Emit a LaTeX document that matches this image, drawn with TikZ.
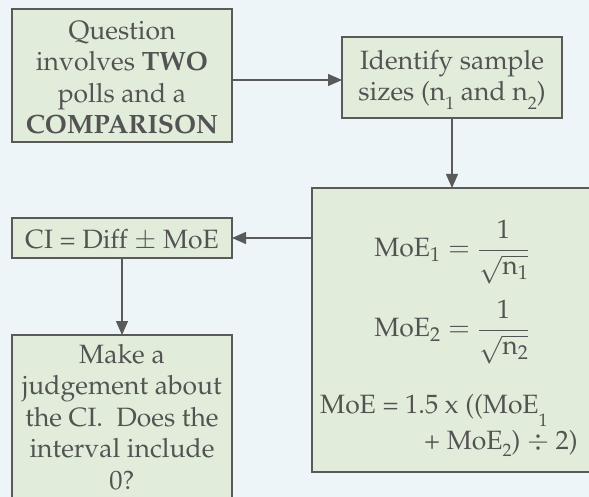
\documentclass[tikz,border=0pt]{standalone}
\usepackage[T1]{fontenc}
\usepackage{mathpazo}
\usetikzlibrary{arrows.meta}
\definecolor{bgc}{HTML}{EEF5F9}
\definecolor{boxc}{HTML}{E1EDDA}
\definecolor{linec}{HTML}{5A5A5A}
\definecolor{txtc}{HTML}{535353}
\newcommand{\lowsub}[2]{\raisebox{#1}{\fontsize{18}{18}\selectfont #2}}
\begin{document}
\begin{tikzpicture}[x=1pt,y=-1pt,
  box/.style={draw=linec, fill=boxc, line width=1.3pt, rectangle, anchor=north west, inner sep=0pt, outer sep=0pt},
  txt/.style={text=txtc, font=\fontsize{26.5}{31.5}\selectfont, align=center, inner sep=0pt},
  arr/.style={draw=linec, line width=1.3pt, -{Triangle[length=14pt,width=12pt]}}]
\useasboundingbox[fill=bgc] (0,0) rectangle (589,497);
\begin{scope}
\clip (0,0) rectangle (589,497);
\node[box, minimum width=220pt, minimum height=133pt] (q) at (12,9) {};
\node[box, minimum width=220pt, minimum height=81pt] (ident) at (342,37) {};
\node[box, minimum width=290pt, minimum height=284pt] (moe) at (312,188) {};
\node[box, minimum width=220pt, minimum height=40pt] (ci) at (12,218) {};
\node[box, minimum width=220pt, minimum height=180pt] (judge) at (12,335) {};

\node[txt] (qt) at (122,77.5) {Question\\involves \textbf{TWO}\\polls and a\\\textbf{COMPARISON}};
\node[txt] (identt) at (452,80) {Identify sample\\sizes (n\lowsub{-9pt}{1} and n\lowsub{-9pt}{2})};
\node[txt] (cit) at (122,240) {CI = Diff $\pm$ MoE};
\node[txt, anchor=north] (judget) at (122,344) {Make a\\judgement about\\the CI.\ \ Does the\\interval include\\0?};
\node[txt] (m1) at (452,252) {$\displaystyle \mathrm{MoE}_1 = \frac{1}{\sqrt{\mathrm{n}_1}}$};
\node[txt] (m2) at (452,332) {$\displaystyle \mathrm{MoE}_2 = \frac{1}{\sqrt{\mathrm{n}_2}}$};
\node[txt, anchor=base west] (m3) at (320,413) {MoE = 1.5 x ((MoE\lowsub{-13pt}{1}};
\node[txt, anchor=base east] (m4) at (578,449) {+ MoE\lowsub{-7pt}{2}) $\div$ 2)};

\coordinate (a1) at ([yshift=-2.5pt]ident.west);
\draw[arr] (q.east |- a1) -- (a1);
\draw[arr] (ident.south) -- (ident.south |- moe.north);
\draw[arr] (moe.west |- ci.east) -- (ci.east);
\draw[arr] (ci.south) -- (judge.north);
\end{scope}
\end{tikzpicture}
\end{document}
